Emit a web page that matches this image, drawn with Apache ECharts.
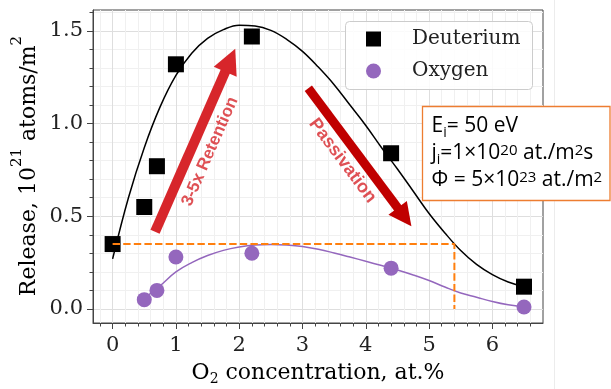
<!DOCTYPE html>
<html>
<head>
<meta charset="utf-8">
<script src="https://cdn.jsdelivr.net/npm/echarts@6/dist/echarts.min.js"></script>
<style>
  html, body { margin: 0; padding: 0; background: #fff; }
  #chart { width: 611px; height: 389px; }
</style>
</head>
<body>
<div id="chart"></div>
<script>
// measured points
const deutX = [0, 0.5, 0.7, 1.0, 2.2, 4.4, 6.5]
const deutY = [0.35, 0.55, 0.77, 1.32, 1.47, 0.84, 0.12]
const oxyX = [0.5, 0.7, 1.0, 2.2, 4.4, 6.5]
const oxyY = [0.05, 0.10, 0.28, 0.30, 0.22, 0.01]

// fitted curves
const deutFitX = [0, 0.25, 0.5, 0.75, 1, 1.25, 1.5, 1.75, 2, 2.25, 2.5, 2.75, 3, 3.25, 3.5, 3.75, 4, 4.25, 4.5, 4.75, 5, 5.25, 5.5, 5.75, 6, 6.25, 6.5]
const deutFitY = [0.27, 0.60, 0.87, 1.09, 1.26, 1.38, 1.46, 1.507, 1.531, 1.527, 1.503, 1.455, 1.39, 1.305, 1.21, 1.10, 0.99, 0.87, 0.755, 0.635, 0.515, 0.41, 0.315, 0.24, 0.185, 0.145, 0.12]
const oxyFitX = [0.5, 0.75, 1, 1.25, 1.5, 1.75, 2, 2.25, 2.5, 2.75, 3, 3.25, 3.5, 3.75, 4, 4.25, 4.5, 4.75, 5, 5.25, 5.5, 5.75, 6, 6.25, 6.5]
const oxyFitY = [0.058, 0.125, 0.20, 0.25, 0.288, 0.316, 0.334, 0.345, 0.348, 0.345, 0.337, 0.322, 0.302, 0.28, 0.257, 0.234, 0.21, 0.183, 0.153, 0.118, 0.086, 0.063, 0.04, 0.022, 0.01]

// orange guide
const guideX = [0, 5.4, 5.4]
const guideY = [0.35, 0.35, 0]

// annotation arrows: [tail, head] in data units
const retentionArrow = [[0.67, 0.417], [1.858, 1.342]]
const passivationArrow = [[3.092, 1.191], [4.612, 0.496]]
const retentionLabel = [1.539, 0.849]
const passivationLabel = [3.632, 0.80]

const xTicks = [0, 1, 2, 3, 4, 5, 6]
const yTicks = [0, 0.5, 1.0, 1.5]

const zip = (xs, ys) => xs.map((x, i) => [x, ys[i]])

const serif = 'DejaVu Serif'
const sans = 'Open Sans'
const red = '#d7262b'
const darkRed = '#c00000'
const purple = '#9467bd'
const orange = '#ff7f0e'

const chart = echarts.init(document.getElementById('chart'))

const axisCommon = {
  axisLine: { show: true, onZero: false, lineStyle: { color: '#444', width: 1 } },
  axisTick: { show: true, length: 6, lineStyle: { color: '#444' } },
  minorTick: { show: true, splitNumber: 5, length: 3.5, lineStyle: { color: '#444' } },
  splitLine: { show: true, lineStyle: { color: '#dedede', width: 1 } },
  minorSplitLine: { show: true, lineStyle: { color: '#f0f0f0', width: 1 } },
  axisLabel: { fontFamily: serif, fontSize: 21, color: '#222', margin: 10 }
}

const boxRich = {
  t: { fontFamily: sans, fontSize: 21, color: '#222', verticalAlign: 'bottom', padding: [0, 0, 3, 0] },
  sub: { fontFamily: sans, fontSize: 14, color: '#222', verticalAlign: 'bottom' },
  sup: { fontFamily: sans, fontSize: 15, color: '#222', verticalAlign: 'top' }
}

const boxLines = [
  '{t|E}{sub|i}{t|= 50 eV}',
  '{t|j}{sub|i}{t|=1×10}{sup|20}{t| at./m}{sup|2}{t|s}',
  '{t|Φ = 5×10}{sup|23}{t| at./m}{sup|2}'
]

const arrowLine = (pts, size) => [
  { coord: pts[0], symbol: 'none' },
  { coord: pts[1], symbol: 'triangle', symbolSize: size }
]

const option = {
  animation: false,
  grid: {
    left: 93, top: 10, width: 450, height: 313,
    show: true, borderColor: '#444', borderWidth: 1, backgroundColor: 'transparent'
  },
  xAxis: {
    type: 'value',
    min: -0.31, max: 6.8,
    minInterval: 1, maxInterval: 1,
    ...axisCommon,
    axisTick: { ...axisCommon.axisTick, customValues: xTicks },
    axisLabel: { ...axisCommon.axisLabel, margin: 12, customValues: xTicks, formatter: (v) => String(v) }
  },
  yAxis: {
    type: 'value',
    min: -0.076, max: 1.613,
    minInterval: 0.5, maxInterval: 0.5,
    ...axisCommon,
    axisTick: { ...axisCommon.axisTick, customValues: yTicks },
    axisLabel: { ...axisCommon.axisLabel, customValues: yTicks, formatter: (v) => v.toFixed(1) }
  },
  legend: {
    data: ['Deuterium', 'Oxygen'],
    orient: 'vertical',
    left: 366, top: 29,
    padding: 0,
    itemWidth: 15, itemHeight: 15,
    itemGap: 12,
    z: 10,
    textStyle: { fontFamily: serif, fontSize: 20, color: '#222', lineHeight: 20, padding: [0, 0, 0, 26] },
    selectedMode: false
  },
  graphic: [
    {
      type: 'line', silent: true, z: 1,
      shape: { x1: 554.5, y1: 0, x2: 554.5, y2: 389 },
      style: { stroke: '#ececec', lineWidth: 1 }
    },
    {
      type: 'rect', silent: true, z: 9,
      shape: { x: 345.5, y: 21.5, width: 187, height: 68, r: 4 },
      style: { fill: 'rgba(255,255,255,0.85)', stroke: '#cccccc', lineWidth: 1 }
    },
    {
      type: 'text', silent: true,
      x: 318, y: 374,
      style: {
        text: '{a|O}{s|2}{a| concentration, at.%}',
        align: 'center', verticalAlign: 'middle',
        rich: {
          a: { fontFamily: serif, fontSize: 22, color: '#222', verticalAlign: 'bottom', padding: [0, 0, 2, 0] },
          s: { fontFamily: serif, fontSize: 14, color: '#222', verticalAlign: 'bottom' }
        }
      }
    },
    {
      type: 'text', silent: true,
      x: 25, y: 166, rotation: Math.PI / 2,
      style: {
        text: '{a|Release, 10}{s|21}{a| atoms/m}{s|2}',
        align: 'center', verticalAlign: 'middle',
        rich: {
          a: { fontFamily: serif, fontSize: 22, color: '#222', verticalAlign: 'bottom', lineHeight: 30 },
          s: { fontFamily: serif, fontSize: 15, color: '#222', verticalAlign: 'top' }
        }
      }
    },
    {
      type: 'rect', silent: true, z: 100,
      shape: { x: 422.5, y: 106.5, width: 187.5, height: 94 },
      style: { fill: '#ffffff', stroke: '#ed7d31', lineWidth: 1.3 }
    },
    ...boxLines.map((line, i) => ({
      type: 'text', silent: true, z: 101,
      x: 431.5, y: 128 + i * 27,
      style: { text: line, align: 'left', verticalAlign: 'middle', rich: boxRich }
    }))
  ],
  series: [
    {
      name: 'deutFit', type: 'line', data: zip(deutFitX, deutFitY),
      smooth: 0.4, symbol: 'none', z: 3,
      lineStyle: { color: '#000', width: 1.5 }, silent: true
    },
    {
      name: 'oxyFit', type: 'line', data: zip(oxyFitX, oxyFitY),
      smooth: 0.4, symbol: 'none', z: 3,
      lineStyle: { color: purple, width: 1.5 }, silent: true
    },
    {
      name: 'Deuterium', type: 'scatter', data: zip(deutX, deutY),
      symbol: 'rect', symbolSize: 16, z: 4,
      itemStyle: { color: '#000', opacity: 1 }
    },
    {
      name: 'Oxygen', type: 'scatter', data: zip(oxyX, oxyY),
      symbol: 'circle', symbolSize: 15, z: 4,
      itemStyle: { color: purple, opacity: 1 }
    },
    {
      name: 'guide', type: 'line', data: zip(guideX, guideY),
      symbol: 'none', z: 5, silent: true,
      lineStyle: { color: orange, width: 2, type: [7.4, 3.2] }
    },
    {
      name: 'retention', type: 'scatter', data: [retentionLabel],
      symbolSize: 1, z: 6, silent: true,
      itemStyle: { color: 'rgba(0,0,0,0)' },
      label: {
        show: true, position: 'inside', rotate: 66.3,
        formatter: '3-5x Retention',
        fontFamily: 'Liberation Sans', fontWeight: 'bold', fontSize: 17, color: red
      },
      markLine: {
        silent: true, animation: false,
        symbol: 'none',
        label: { show: false },
        lineStyle: { color: red, width: 10, type: 'solid' },
        data: [arrowLine(retentionArrow, 25)]
      }
    },
    {
      name: 'passivation', type: 'scatter', data: [passivationLabel],
      symbolSize: 1, z: 6, silent: true,
      itemStyle: { color: 'rgba(0,0,0,0)' },
      label: {
        show: true, position: 'inside', rotate: -53.2,
        formatter: 'Passivation',
        fontFamily: 'Liberation Sans', fontWeight: 'bold', fontSize: 18, color: red
      },
      markLine: {
        silent: true, animation: false,
        symbol: 'none',
        label: { show: false },
        lineStyle: { color: darkRed, width: 9, type: 'solid' },
        data: [arrowLine(passivationArrow, 23)]
      }
    }
  ]
}

chart.setOption(option)
</script>
</body>
</html>
